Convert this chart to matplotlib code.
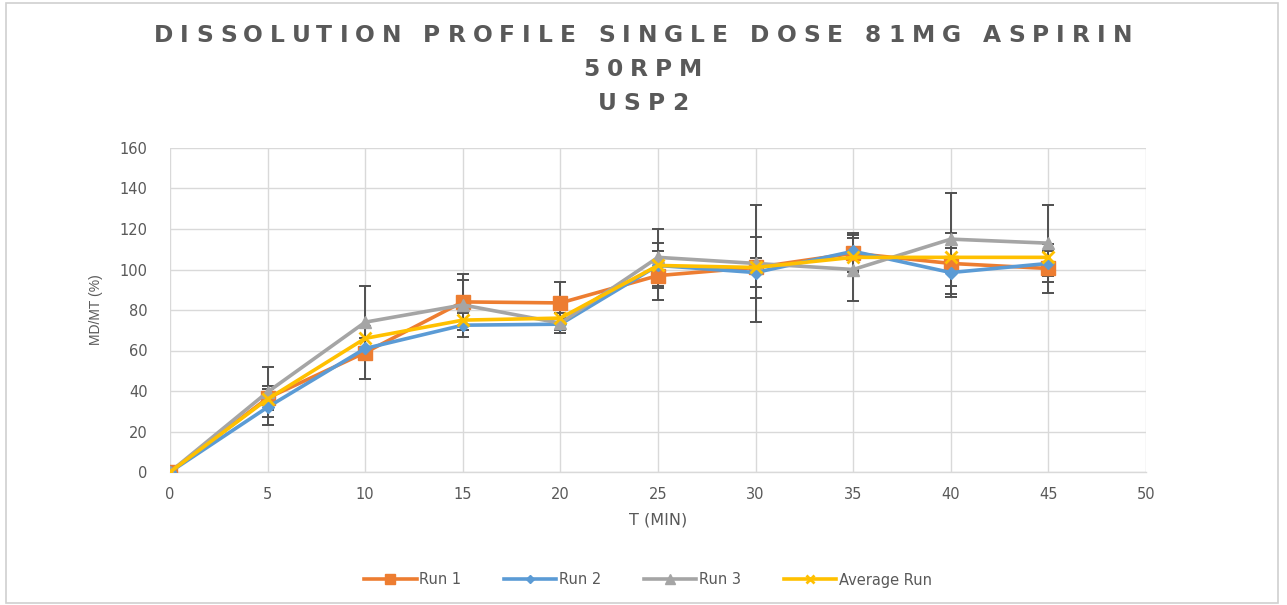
import matplotlib
matplotlib.use("Agg")
import matplotlib.pyplot as plt
from matplotlib.font_manager import FontProperties
from matplotlib.patches import Rectangle

# Sampling times (min) and dissolved fraction MD/MT (%) for each run
time_min = [0, 5, 10, 15, 20, 25, 30, 35, 40, 45]
run1 = [0, 36.5, 59, 84, 83.5, 97, 101, 108, 103, 100.5]
run2 = [0, 32, 61, 72.5, 73, 102, 98.5, 109, 98.5, 103]
run3 = [0, 39.5, 74, 82.5, 73.5, 106, 103, 100, 115, 113]
average = [0, 36, 66, 75, 76, 102, 101, 106, 106, 106]

# Error bar half-widths per run
run1_err = [0, 6, 13, 14, 10.5, 12, 15, 9, 15, 12]
run2_err = [0, 9, 5, 6, 3, 11, 7, 9, 12, 6]
run3_err = [0, 12.5, 18, 12.5, 5, 14, 29, 15.5, 23, 19]

series_names = ["Run 1", "Run 2", "Run 3", "Average Run"]
title_lines = ["DISSOLUTION PROFILE SINGLE DOSE 81MG ASPIRIN", "50RPM", "USP2"]

text_gray = "#595959"
grid_gray = "#D9D9D9"
base_font = "DejaVu Sans"

fig = plt.figure(figsize=(12.87, 6.05), dpi=100)
fig.patch.set_facecolor("white")

# chart area border
fig.add_artist(Rectangle((6 / 1287, 2 / 605), 1272 / 1287, 600 / 605,
                         transform=fig.transFigure, fill=False,
                         edgecolor="#D0D0D0", linewidth=1.2))

ax = fig.add_axes([170 / 1287, 133 / 605, 976 / 1287, 324 / 605])

styles = [
    dict(color="#ED7D31", marker="s", markersize=10),
    dict(color="#5B9BD5", marker="D", markersize=6),
    dict(color="#A5A5A5", marker="^", markersize=9),
    dict(color="#FFC000", marker="x", markersize=8, markeredgewidth=2),
]
values = [run1, run2, run3, average]
errors = [run1_err, run2_err, run3_err, None]

handles = []
for name, vals, err, st in zip(series_names, values, errors, styles):
    if err is not None:
        ax.errorbar(time_min, vals, yerr=err, fmt="none", ecolor="#505050",
                    elinewidth=1.4, capsize=4.3, capthick=1.4, zorder=3)
    line, = ax.plot(time_min, vals, linewidth=2.6, label=name, zorder=4, **st)
    handles.append(line)

ax.set_xlim(0, 50)
ax.set_ylim(0, 160)
ax.set_xticks(range(0, 51, 5))
ax.set_yticks(range(0, 161, 20))
ax.grid(True, color=grid_gray, linewidth=1.0)
ax.set_axisbelow(True)
for side in ["top", "right", "left"]:
    ax.spines[side].set_visible(False)
ax.spines["bottom"].set_color(grid_gray)
ax.spines["bottom"].set_linewidth(1.0)
ax.tick_params(length=0, colors=text_gray, labelsize=10.5)
for lbl in ax.get_xticklabels() + ax.get_yticklabels():
    lbl.set_family(base_font)
ax.tick_params(axis="y", pad=16)
ax.tick_params(axis="x", pad=10.5)

ax.set_xlabel("T (MIN)", color=text_gray, fontsize=11.5, family=base_font,
              labelpad=8)
ax.set_ylabel("MD/MT (%)", color=text_gray, fontsize=10, family="Liberation Sans",
              labelpad=12)

leg = fig.legend(handles=handles, loc="center", bbox_to_anchor=(648 / 1287, 1 - 580 / 605),
                 ncol=4, frameon=False, handlelength=3.6, columnspacing=2.9,
                 handletextpad=0.2, markerscale=0.75,
                 prop=FontProperties(family=base_font, size=10.5))
for t in leg.get_texts():
    t.set_color(text_gray)

# letter-spaced title, drawn character by character
renderer = fig.canvas.get_renderer()
title_prop = FontProperties(family=base_font, weight="bold", size=16.8)


def text_width(s):
    w_bar = renderer.get_text_width_height_descent("|", title_prop, ismath=False)[0]
    w = renderer.get_text_width_height_descent(s + "|", title_prop, ismath=False)[0]
    return w - w_bar


def spaced_text(s, cx, cy, gap):
    total = text_width(s) + gap * (len(s) - 1)
    x0 = cx - total / 2
    for i, ch in enumerate(s):
        if ch == " ":
            continue
        x = x0 + text_width(s[:i]) + gap * i
        fig.text(x / fig.bbox.width, 1 - cy / fig.bbox.height, ch,
                 fontproperties=title_prop, color=text_gray,
                 ha="left", va="center")


for line_text, y_px in zip(title_lines, [36, 70, 103]):
    spaced_text(line_text, 643, y_px, 7)

fig.savefig("out.png", dpi=100, facecolor="white")
plt.close(fig)
